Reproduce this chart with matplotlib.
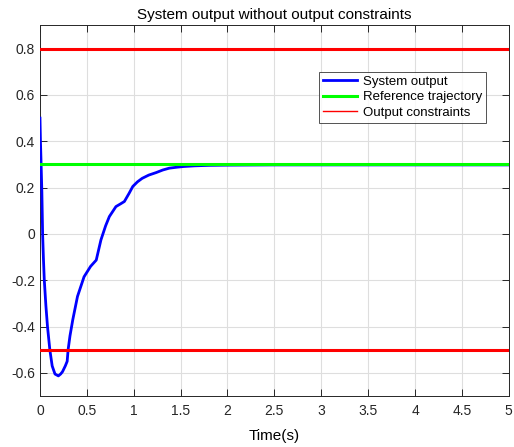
import numpy as np
import matplotlib
matplotlib.use("Agg")
import matplotlib.pyplot as plt

plt.rcParams['font.family'] = ['Liberation Sans', 'DejaVu Sans']

# system output
t = [0.0, 0.005, 0.012, 0.02, 0.028, 0.037, 0.046, 0.063, 0.08, 0.095, 0.105,
     0.13, 0.16, 0.196, 0.22, 0.24, 0.27, 0.29, 0.30, 0.32, 0.35, 0.40, 0.47,
     0.54, 0.60, 0.65, 0.70, 0.74, 0.81, 0.86, 0.90, 0.95, 0.99, 1.04, 1.09,
     1.16, 1.24, 1.31, 1.38, 1.46, 1.53, 1.65, 1.8, 2.0, 2.5, 3.0, 4.0, 5.0]
y = [0.50, 0.40, 0.30, 0.18, 0.0, -0.11, -0.20, -0.31, -0.40, -0.46, -0.50,
     -0.57, -0.605, -0.613, -0.605, -0.595, -0.57, -0.55, -0.50, -0.44, -0.37,
     -0.27, -0.185, -0.14, -0.113, -0.026, 0.035, 0.075, 0.118, 0.13, 0.14,
     0.175, 0.205, 0.225, 0.24, 0.254, 0.265, 0.276, 0.284, 0.288, 0.291,
     0.294, 0.296, 0.297, 0.298, 0.298, 0.298, 0.298]
ref_level = 0.3
upper_limit = 0.8
lower_limit = -0.5

fig = plt.figure(figsize=(5.14, 4.47), dpi=100)
ax = fig.add_axes([0.0778, 0.114, 0.912, 0.829])

ax.plot(t, y, color='#0000ff', lw=2.0, label='System output', zorder=3)
ax.axhline(ref_level, color='#00ff00', lw=2.2, label='Reference trajectory', zorder=4)
ax.axhline(upper_limit, color='#ff0000', lw=2.2, zorder=3)
ax.axhline(lower_limit, color='#ff0000', lw=2.2, zorder=3)
ax.plot([], [], color='#ff0000', lw=1.0, label='Output constraints')

ax.set_xlim(0, 5)
ax.set_ylim(-0.7, 0.9)
ax.set_xticks(np.arange(0, 5.01, 0.5))
ax.set_xticklabels(['0', '0.5', '1', '1.5', '2', '2.5', '3', '3.5', '4', '4.5', '5'])
ax.set_yticks(np.arange(-0.6, 0.81, 0.2))
ax.set_yticklabels(['-0.6', '-0.4', '-0.2', '0', '0.2', '0.4', '0.6', '0.8'])
ax.grid(True, color='#dedede', lw=0.8)
ax.set_axisbelow(True)
ax.tick_params(direction='in', top=True, right=True, labelsize=10,
               colors='#262626', length=5, width=0.7)
ax.tick_params(axis='x', pad=6)
for s in ax.spines.values():
    s.set_color('#262626')
    s.set_linewidth(0.7)

ax.set_title('System output without output constraints', fontsize=11, pad=5)
ax.set_xlabel('Time(s)', fontsize=11, labelpad=8)

leg = ax.legend(loc='upper right', bbox_to_anchor=(0.951, 0.8755), fontsize=9.5,
                frameon=True, fancybox=False, edgecolor='#262626',
                handlelength=2.6, borderpad=0.3, labelspacing=0.25,
                handletextpad=0.4, borderaxespad=0)
leg.get_frame().set_linewidth(0.7)

fig.savefig('out.png', dpi=100)
